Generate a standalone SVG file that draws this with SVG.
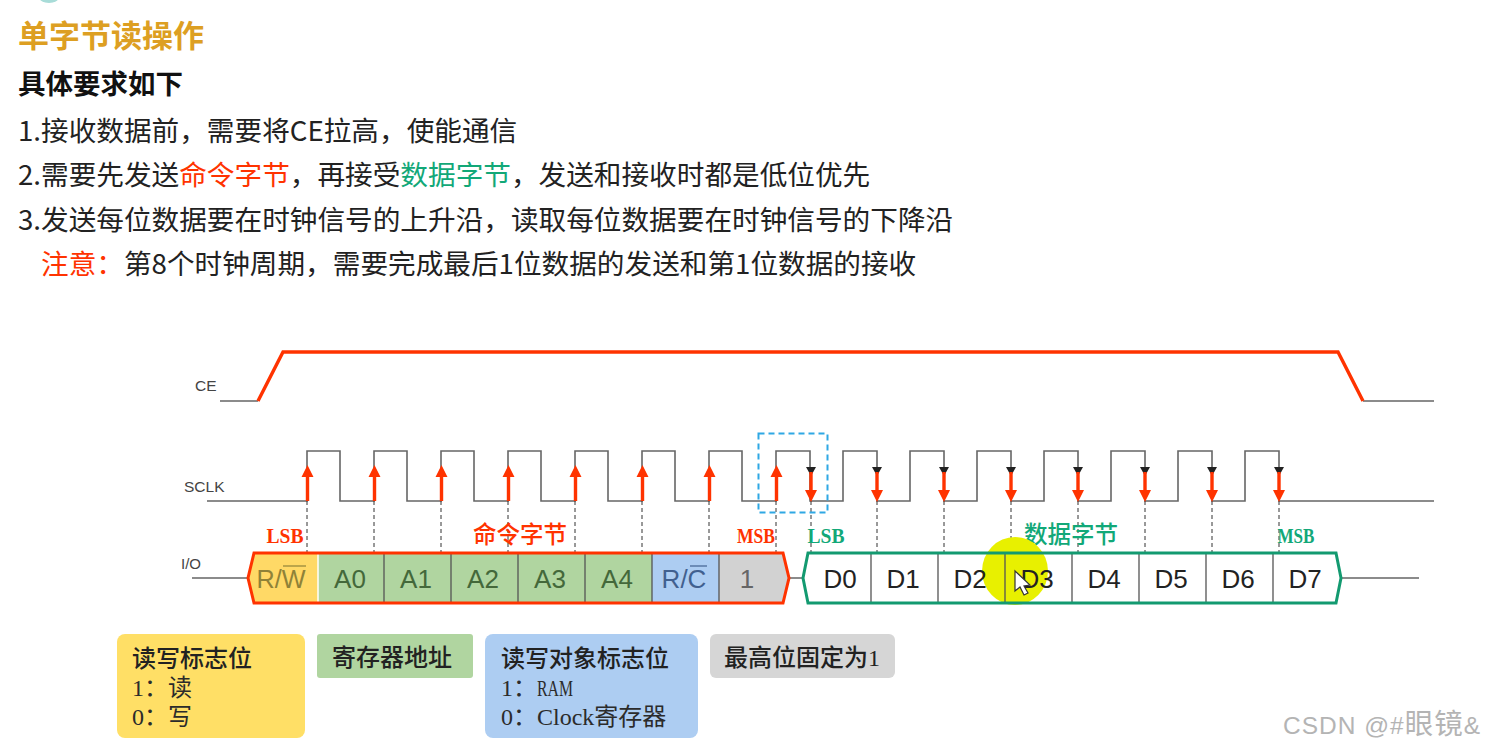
<svg xmlns="http://www.w3.org/2000/svg" width="1485" height="752" viewBox="0 0 1485 752">
<defs>
<style>
text{font-family:"Noto Sans CJK SC","Noto Sans",sans-serif;}
.b{font-size:27.65px;fill:#222;}
.sig{font-family:"Liberation Sans",sans-serif;font-size:15.5px;fill:#444;}
.cell{font-family:"Liberation Sans",sans-serif;font-size:26px;text-anchor:middle;}
.lab{font-family:"Liberation Serif",serif;font-size:21px;font-weight:bold;text-anchor:middle;}
.labc{font-family:"Noto Sans CJK SC",serif;font-size:23.5px;font-weight:500;text-anchor:middle;}
.leg{font-family:"Liberation Serif","Noto Sans CJK SC",serif;font-size:24px;fill:#2b2b2b;}
.legh{font-family:"Liberation Serif","Noto Sans CJK SC",serif;font-size:24px;fill:#222;font-weight:500;}
.gray{fill:none;stroke:#666;stroke-width:1.6;}
.div{stroke:#555;stroke-width:1.3;}
.dash{stroke:#333;stroke-width:1;stroke-dasharray:4 3;fill:none;}
.red{stroke:#FF3300;stroke-width:3.4;fill:none;}
.redf{fill:#FF3300;}
</style>
</defs>
<rect width="1485" height="752" fill="#fff"/>
<ellipse cx="49" cy="-3" rx="10" ry="6" fill="#a8dcd8"/>
<g id="heading">
<text x="18" y="47" font-size="31" font-weight="700" fill="#DD9F22">单字节读操作</text>
<text x="18" y="94" font-size="27.5" font-weight="700" fill="#111">具体要求如下</text>
<text class="b" x="18" y="141">1.接收数据前&#xFF0C;需要将CE拉高&#xFF0C;使能通信</text>
<text class="b" x="18" y="185">2.需要先发送<tspan fill="#FF3300">命令字节</tspan>&#xFF0C;再接受<tspan fill="#12A878">数据字节</tspan>&#xFF0C;发送和接收时都是低位优先</text>
<text class="b" x="18" y="230">3.发送每位数据要在时钟信号的上升沿&#xFF0C;读取每位数据要在时钟信号的下降沿</text>
<text class="b" x="41" y="274"><tspan fill="#FF3300">注意&#xFF1A;</tspan>第8个时钟周期&#xFF0C;需要完成最后1位数据的发送和第1位数据的接收</text>
</g>
<g id="ce">
<text class="sig" x="195" y="391">CE</text>
<path class="gray" d="M220 401H258M1363 401H1434"/>
<path d="M258 401L283 352H1338L1363 401" fill="none" stroke="#FF3300" stroke-width="3.4"/>
</g>
<g id="sclk">
<text class="sig" x="184" y="492">SCLK</text>
<path class="gray" d="M207 501H307V451H340V501H374V451H407V501H441V451H474V501H508V451H541V501H575V451H608V501H642V451H675V501H709V451H742V501H776V451H810V501H843V451H877V501H910V451H944V501H977V451H1011V501H1044V451H1078V501H1111V451H1145V501H1178V451H1212V501H1245V451H1279V501H1434"/>
</g>
<g id="connectors">
<path class="dash" d="M307 501V552M374 501V552M441 501V552M508 501V552M575 501V552M642 501V552M709 501V552M776 501V552M811 501V552M877 501V552M944 501V552M1011 501V552M1078 501V552M1145 501V552M1212 501V552M1279 501V552"/>
<path class="red" d="M307.500 501V472M374.500 501V472M441.500 501V472M508.500 501V472M575.500 501V472M642.500 501V472M709.500 501V472M776.500 501V472"/>
<path class="redf" d="M307.500 465l-6 12h12zM374.500 465l-6 12h12zM441.500 465l-6 12h12zM508.500 465l-6 12h12zM575.500 465l-6 12h12zM642.500 465l-6 12h12zM709.500 465l-6 12h12zM776.500 465l-6 12h12z"/>
<path fill="#222" d="M806 467h10l-5 9zM872 467h10l-5 9zM939 467h10l-5 9zM1006 467h10l-5 9zM1073 467h10l-5 9zM1140 467h10l-5 9zM1207 467h10l-5 9zM1274 467h10l-5 9z"/>
<path class="red" d="M811 472V494M877 472V494M944 472V494M1011 472V494M1078 472V494M1145 472V494M1212 472V494M1279 472V494"/>
<path class="redf" d="M811 502l-6-12h12zM877 502l-6-12h12zM944 502l-6-12h12zM1011 502l-6-12h12zM1078 502l-6-12h12zM1145 502l-6-12h12zM1212 502l-6-12h12zM1279 502l-6-12h12z"/>
<rect x="758.500" y="433.500" width="69" height="79" fill="none" stroke="#2FA8E4" stroke-width="2" stroke-dasharray="6 4"/>
<path class="gray" d="M192 578H248M789 578H803M1341 578H1419"/>
</g>
<g id="labels">
<text class="lab" x="285" y="543" fill="#FF3300" textLength="37" lengthAdjust="spacingAndGlyphs">LSB</text>
<text class="labc" x="520" y="543" fill="#FF3300">命令字节</text>
<text class="lab" x="756" y="543" fill="#FF3300" textLength="38" lengthAdjust="spacingAndGlyphs">MSB</text>
<text class="lab" x="826" y="543" fill="#12A878" textLength="37" lengthAdjust="spacingAndGlyphs">LSB</text>
<text class="labc" x="1071" y="543" fill="#12A878">数据字节</text>
<text class="lab" x="1296" y="543" fill="#12A878" textLength="37" lengthAdjust="spacingAndGlyphs">MSB</text>
<text class="sig" x="181" y="569" style="font-size:15px">I/O</text>
</g>
<g id="command-byte">
<rect x="254" y="553" width="64" height="50" fill="#FFD966"/>
<path d="M254 553L248 578L254 603Z" fill="#FFD966"/>
<rect x="318" y="553" width="334" height="50" fill="#B0D5A0"/>
<rect x="652" y="553" width="67" height="50" fill="#ADCDF2"/>
<path d="M719 553H783L789 578L783 603H719Z" fill="#D2D2D2"/>
<path class="div" d="M384 553V603M451 553V603M518 553V603M585 553V603M652 553V603M719 553V603"/>
<path d="M318 553V603" stroke="#fff" stroke-width="1.500"/>
<path d="M254 553H783L789 578L783 603H254L248 578Z" fill="none" stroke="#FF3300" stroke-width="3"/>
<text class="cell" x="281" y="588" fill="#8F8238" textLength="49" lengthAdjust="spacingAndGlyphs">R/W</text><path d="M283 566H306" stroke="#8F8238" stroke-width="1.200"/>
<text class="cell" x="350" y="588" fill="#44683A">A0</text>
<text class="cell" x="416" y="588" fill="#44683A">A1</text>
<text class="cell" x="483" y="588" fill="#44683A">A2</text>
<text class="cell" x="550" y="588" fill="#44683A">A3</text>
<text class="cell" x="617" y="588" fill="#44683A">A4</text>
<text class="cell" x="684" y="588" fill="#41608F">R/C</text><path d="M690 566H707" stroke="#41608F" stroke-width="1.200"/>
<text class="cell" x="747" y="588" fill="#666">1</text>
</g>
<g id="data-byte">
<path d="M808 553H1336L1341 578L1336 603H808L803 578Z" fill="#fff"/>
<ellipse cx="1015" cy="571" rx="33" ry="34" fill="#E8F000"/>
<path class="div" d="M871 553V603M938 553V603M1005 553V603M1072 553V603M1139 553V603M1206 553V603M1273 553V603"/>
<path d="M808 553H1336L1341 578L1336 603H808L803 578Z" fill="none" stroke="#139A70" stroke-width="3"/>
<text class="cell" x="840" y="588" fill="#222">D0</text>
<text class="cell" x="903" y="588" fill="#222">D1</text>
<text class="cell" x="970" y="588" fill="#222">D2</text>
<text class="cell" x="1037" y="588" fill="#222">D3</text>
<text class="cell" x="1104" y="588" fill="#222">D4</text>
<text class="cell" x="1171" y="588" fill="#222">D5</text>
<text class="cell" x="1238" y="588" fill="#222">D6</text>
<text class="cell" x="1305" y="588" fill="#222">D7</text>
</g>
<g id="cursor"><path d="M1015 571V591L1020 587L1024 595L1028 593L1024 586L1030 585Z" fill="#fff" stroke="#333" stroke-width="1.200"/></g>
<g id="legend-rw">
<rect x="117" y="634" width="188" height="104" rx="8" fill="#FFDF66"/>
<text class="legh" x="132" y="667">读写标志位</text>
<text class="leg" x="132" y="696">1&#xFF1A;读</text>
<text class="leg" x="132" y="725">0&#xFF1A;写</text>
</g>
<g id="legend-addr">
<rect x="317" y="634" width="156" height="44" rx="3" fill="#B0D5A0"/>
<text class="legh" x="332" y="666">寄存器地址</text>
</g>
<g id="legend-target">
<rect x="485" y="634" width="213" height="104" rx="8" fill="#ADCDF2"/>
<text class="legh" x="501" y="667">读写对象标志位</text>
<text class="leg" x="501" y="696">1&#xFF1A;</text>
<text class="leg" x="537" y="696" textLength="36" lengthAdjust="spacingAndGlyphs">RAM</text>
<text class="leg" x="501" y="725">0&#xFF1A;Clock寄存器</text>
</g>
<g id="legend-msb">
<rect x="710" y="634" width="185" height="44" rx="6" fill="#D6D6D6"/>
<text class="legh" x="724" y="666">最高位固定为1</text>
</g>
<text x="1283" y="734" font-size="24.500" fill="#b4b4b4" letter-spacing="1" style="font-family:'Liberation Sans','Noto Sans CJK SC',sans-serif">CSDN @#<tspan font-size="28.500">眼镜</tspan>&amp;</text>
</svg>
